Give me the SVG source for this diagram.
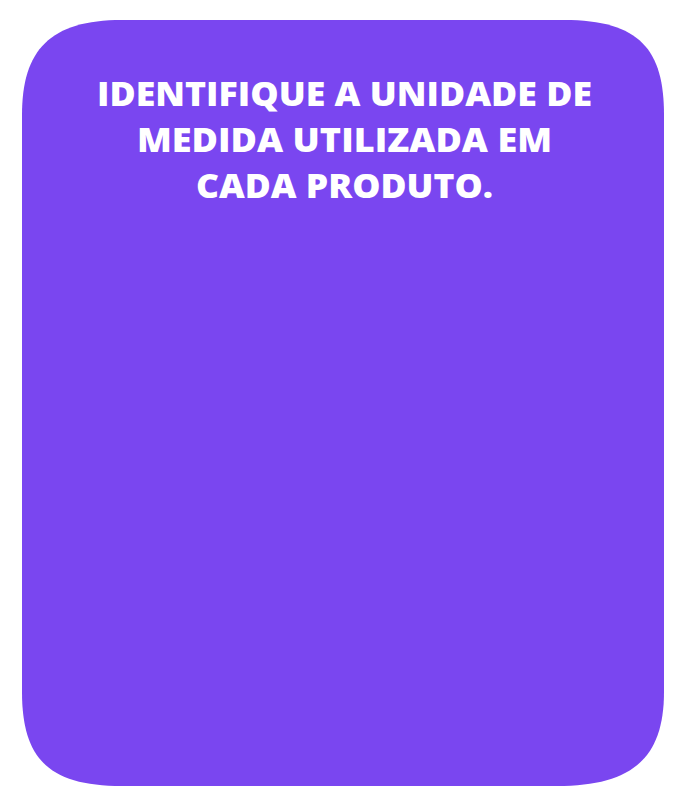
<svg xmlns="http://www.w3.org/2000/svg" width="684" height="807" viewBox="0 0 684 807">
<style>
.card{fill:#7A46F0}
.t{font-family:"Open Sans","Noto Sans",sans-serif;font-weight:800;font-size:34px;fill:#FFFFFF;text-anchor:middle}
</style>
<g id="card">
<path class="card" d="M122 20 H564 C640 20 664 50 664 115 V692 C664 760 630 786 557 786 H122 C50 786 22 760 22 692 V115 C22 50 50 20 122 20 Z"/>
</g>
<g id="title">
<text class="t" x="344.5" y="106" textLength="495" lengthAdjust="spacingAndGlyphs">IDENTIFIQUE A UNIDADE DE</text>
<text class="t" x="344.5" y="152" textLength="415" lengthAdjust="spacingAndGlyphs">MEDIDA UTILIZADA EM</text>
<text class="t" x="344.5" y="198" textLength="297" lengthAdjust="spacingAndGlyphs">CADA PRODUTO.</text>
</g>
<g id="connectors"></g>
</svg>
